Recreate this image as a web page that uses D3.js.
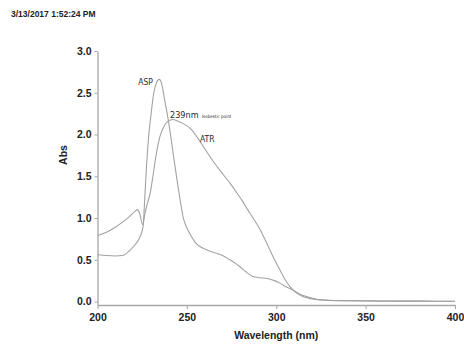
<!DOCTYPE html>
<html>
<head>
<meta charset="utf-8">
<script src="https://cdn.jsdelivr.net/npm/d3@7"></script>
<style>
  body { margin: 0; background: #fff; }
  svg { display: block; }
</style>
</head>
<body>
<script>
// spectrum data
const aspWavelength = [200, 205, 210, 214, 218, 221, 223.5, 225.5, 226.6, 227.5, 228.5, 230, 231.5, 233, 234.5, 236, 237.5, 239, 240.5, 242, 243.5, 245, 246.5, 248, 250, 252, 255, 258, 262, 266, 270, 274, 277, 280, 284, 287, 291, 295, 299, 302, 306, 309, 313, 317, 320, 324, 330, 340, 360, 380, 400];
const aspAbs = [0.56, 0.55, 0.545, 0.55, 0.61, 0.68, 0.76, 0.9, 1.3, 1.65, 1.95, 2.25, 2.5, 2.62, 2.66, 2.6, 2.42, 2.25, 2.05, 1.82, 1.6, 1.38, 1.18, 1.0, 0.88, 0.8, 0.7, 0.65, 0.61, 0.58, 0.55, 0.5, 0.46, 0.41, 0.34, 0.3, 0.285, 0.275, 0.25, 0.22, 0.17, 0.14, 0.09, 0.06, 0.04, 0.02, 0.012, 0.008, 0.005, 0.004, 0.003];

const atrWavelength = [200, 205, 210, 214, 218, 221, 222.3, 223.5, 225.3, 226.5, 228, 229.5, 231, 233, 235, 237, 239.5, 242, 245, 248, 252, 256, 260, 265, 270, 274, 278, 281.5, 284, 287, 291, 294, 297, 300, 302, 305, 308, 311, 314, 318, 322, 330, 340, 360, 380, 400];
const atrAbs = [0.79, 0.83, 0.89, 0.95, 1.02, 1.08, 1.1, 1.06, 0.92, 1.05, 1.18, 1.3, 1.5, 1.78, 1.98, 2.09, 2.16, 2.18, 2.16, 2.13, 2.07, 1.96, 1.83, 1.67, 1.53, 1.42, 1.3, 1.19, 1.1, 1.0, 0.86, 0.73, 0.59, 0.46, 0.38, 0.26, 0.17, 0.11, 0.07, 0.04, 0.025, 0.015, 0.01, 0.006, 0.004, 0.003];

const xTicks = [200, 250, 300, 350, 400];
const yTicks = [0.0, 0.5, 1.0, 1.5, 2.0, 2.5, 3.0];

const stamp = "3/13/2017 1:52:24 PM";
const xTitle = "Wavelength (nm)";
const yTitle = "Abs";

// annotation texts, anchored in data units
const notes = [
  { text: "ASP", wl: 231, abs: 2.59, size: 8.5, anchor: "end" },
  { text: "239nm", wl: 240.6, abs: 2.2, size: 9, anchor: "start" },
  { text: "Isobestic point", wl: 258.4, abs: 2.2, size: 4.5, anchor: "start" },
  { text: "ATR", wl: 257.3, abs: 1.91, size: 8.5, anchor: "start" },
];

const W = 464, H = 345;
const plotLeft = 97.5, plotRight = 455, plotTop = 51, axisY = 305;

const svg = d3.select("body").append("svg")
  .attr("width", W)
  .attr("height", H);

svg.append("rect").attr("width", W).attr("height", H).attr("fill", "#fff");

const x = d3.scaleLinear().domain([200, 400]).range([plotLeft, plotRight]);
// bottom of the range sits a little below zero, where the x axis line is
const y = d3.scaleLinear().domain([-0.042, 3]).range([axisY, plotTop]);

const axisColor = "#a8a8a8";
const labelFont = "'Liberation Sans', Arial, sans-serif";

// x axis
const gx = svg.append("g")
  .attr("transform", `translate(0,${axisY})`)
  .call(d3.axisBottom(x).tickValues(xTicks).tickFormat(d3.format("d")).tickSize(4).tickSizeOuter(0).tickPadding(5));
gx.select(".domain").attr("stroke", axisColor).attr("stroke-width", 1.3);
gx.selectAll(".tick line").attr("stroke", axisColor);
gx.selectAll(".tick text")
  .attr("fill", "#222")
  .style("font", `bold 10.5px ${labelFont}`);

// y axis
const gy = svg.append("g")
  .attr("transform", `translate(${plotLeft},0)`)
  .call(d3.axisLeft(y).tickValues(yTicks).tickFormat(d3.format(".1f")).tickSize(3).tickSizeOuter(0).tickPadding(3));
gy.select(".domain").attr("stroke", axisColor).attr("stroke-width", 1.3);
gy.selectAll(".tick line").attr("stroke", axisColor);
gy.selectAll(".tick text")
  .attr("fill", "#222")
  .style("font", `bold 10.5px ${labelFont}`);

// axis titles
svg.append("text")
  .attr("x", x(300))
  .attr("y", 339)
  .attr("text-anchor", "middle")
  .attr("fill", "#222")
  .style("font", `bold 10.5px ${labelFont}`)
  .text(xTitle);

svg.append("text")
  .attr("transform", `translate(67,155) rotate(-90)`)
  .attr("text-anchor", "middle")
  .attr("fill", "#222")
  .style("font", `bold 10.5px ${labelFont}`)
  .text(yTitle);

// time stamp
svg.append("text")
  .attr("x", 11)
  .attr("y", 16.5)
  .attr("fill", "#222")
  .style("font", `bold 8.5px ${labelFont}`)
  .text(stamp);

// spectra
const line = d3.line()
  .x((d) => x(d[0]))
  .y((d) => y(d[1]))
  .curve(d3.curveMonotoneX);

const drawSpectrum = (wl, abs) => {
  svg.append("path")
    .datum(wl.map((w, i) => [w, abs[i]]))
    .attr("fill", "none")
    .attr("stroke", "#a2a2a2")
    .attr("stroke-width", 1.1)
    .attr("d", line);
};

drawSpectrum(atrWavelength, atrAbs);
drawSpectrum(aspWavelength, aspAbs);

// labels on the curves
svg.append("g")
  .selectAll("text")
  .data(notes)
  .join("text")
  .attr("x", (d) => x(d.wl))
  .attr("y", (d) => y(d.abs))
  .attr("text-anchor", (d) => d.anchor)
  .attr("fill", "#2a2a2a")
  .style("font-family", "'DejaVu Sans Condensed', 'DejaVu Sans', sans-serif")
  .style("font-size", (d) => d.size + "px")
  .text((d) => d.text);
</script>
</body>
</html>
